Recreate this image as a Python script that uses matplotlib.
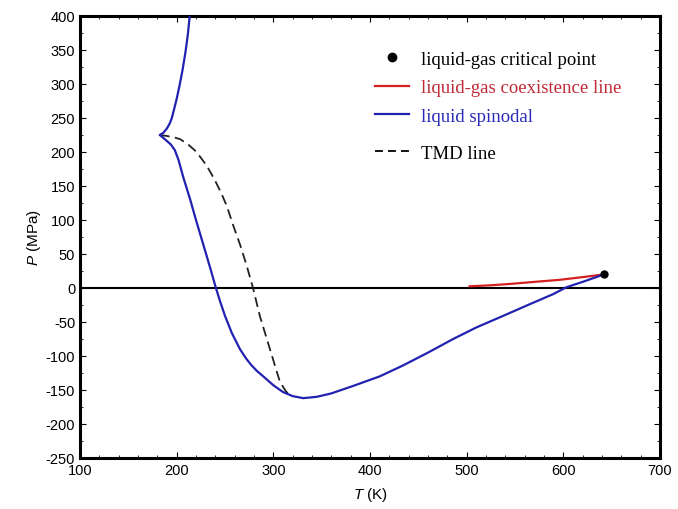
"""Water phase diagram: spinodal, coexistence and TMD lines."""
import matplotlib
import numpy as np

matplotlib.use("Agg")
from matplotlib import pyplot as plt
from matplotlib.lines import Line2D
from matplotlib.ticker import MultipleLocator

# liquid spinodal (K, MPa), from top of the upper branch through the cusp
spinodal_T = [213.5, 211.5, 209, 206, 203, 200, 197, 194.8, 192.5, 189.6, 186, 182.5,
              186, 190, 194, 198, 202, 206.8, 213.8, 220, 225, 229, 235, 240.6, 245, 250,
              257, 265.5, 272, 277, 283, 289.6, 300, 310, 320, 331, 345, 360, 382.6,
              410, 434, 460, 486, 510, 537.7, 565, 589.5, 603, 622, 642]
spinodal_P = [400, 372, 346, 320, 298, 278, 261, 249, 241, 234, 228, 225,
              221, 216, 211, 203, 188, 163, 131, 100, 76, 57, 28, 0, -20, -41,
              -66, -90, -104, -113, -122, -130, -143, -153, -159, -162, -160, -155, -144,
              -130, -114, -95, -75, -58, -41, -24, -9, 1, 10, 20]

# TMD line
tmd_T = [182.5, 188, 196, 203.4, 212, 220.6, 231, 239, 246, 252, 258.5, 266, 272.4, 279,
         286, 296.5, 306.8, 313, 319]
tmd_P = [225, 224, 222, 219, 211, 200, 180, 160, 140, 120, 92, 62, 33, 0,
         -41, -90, -138, -152, -160]

# liquid-gas coexistence line
coex_T = [503, 525, 545, 570, 596, 620, 642]
coex_P = [2.5, 4, 6, 9, 12, 16, 20]

critical_T = [642]
critical_P = [20]

plt.rcParams["font.family"] = ["Liberation Sans", "DejaVu Sans"]
plt.rcParams["mathtext.fontset"] = "custom"
plt.rcParams["mathtext.it"] = "Liberation Sans:italic"
plt.rcParams["mathtext.rm"] = "Liberation Sans"
plt.rcParams["axes.unicode_minus"] = False

fig = plt.figure(figsize=(6.78, 5.10), dpi=100)
ax = fig.add_axes([80 / 678, 51 / 510, 580 / 678, 442 / 510])

blue = "#2222b0"
red = "#d42020"

ax.axhline(0, color="black", linewidth=1.5, zorder=1)
ax.plot(coex_T, coex_P, color=red, linewidth=1.6, zorder=3)
ax.plot(tmd_T, tmd_P, color="#222222", linewidth=1.3, linestyle=(0, (5.5, 3)), zorder=2)
ax.plot(spinodal_T, spinodal_P, color=blue, linewidth=1.6, zorder=3)
ax.plot(critical_T, critical_P, "o", color="black", markersize=5, zorder=4)

ax.set_xlim(100, 700)
ax.set_ylim(-250, 400)
ax.xaxis.set_major_locator(MultipleLocator(100))
ax.xaxis.set_minor_locator(MultipleLocator(20))
ax.yaxis.set_major_locator(MultipleLocator(50))
ax.yaxis.set_minor_locator(MultipleLocator(25))
ax.tick_params(which="both", direction="in", top=True, right=True, labelsize=10.5)
ax.tick_params(which="major", length=4, width=0.8)
ax.tick_params(which="minor", length=2, width=0.6)
for spine in ax.spines.values():
    spine.set_linewidth(2.2)

ax.set_xlabel(r"$T$ (K)", fontsize=11, labelpad=6)
ax.set_ylabel(r"$P$ (MPa)", fontsize=11, labelpad=2)

legend_font = {"family": "Liberation Serif", "size": 13.5}
legend_kw = dict(loc="upper left", frameon=False, prop=legend_font, borderpad=0, borderaxespad=0,
                 handlelength=1.8, handletextpad=0.65)
handles = [
    Line2D([], [], marker="o", color="black", linestyle="none", markersize=6),
    Line2D([], [], color=red, linewidth=1.6),
    Line2D([], [], color=blue, linewidth=1.6),
]
labels = ["liquid-gas critical point", "liquid-gas coexistence line", "liquid spinodal"]
leg = ax.legend(handles, labels, bbox_to_anchor=(0.5086, 0.921), labelspacing=0.6, **legend_kw)
for text, color in zip(leg.get_texts(), ["black", "#c02a35", "#2a2ab8"]):
    text.set_color(color)
ax.add_artist(leg)

tmd_handle = Line2D([], [], color="black", linewidth=1.3, linestyle=(0, (4.4, 2.8)))
ax.legend([tmd_handle], ["TMD line"], bbox_to_anchor=(0.5086, 0.709), **legend_kw)

fig.savefig("out.png")
plt.close(fig)
